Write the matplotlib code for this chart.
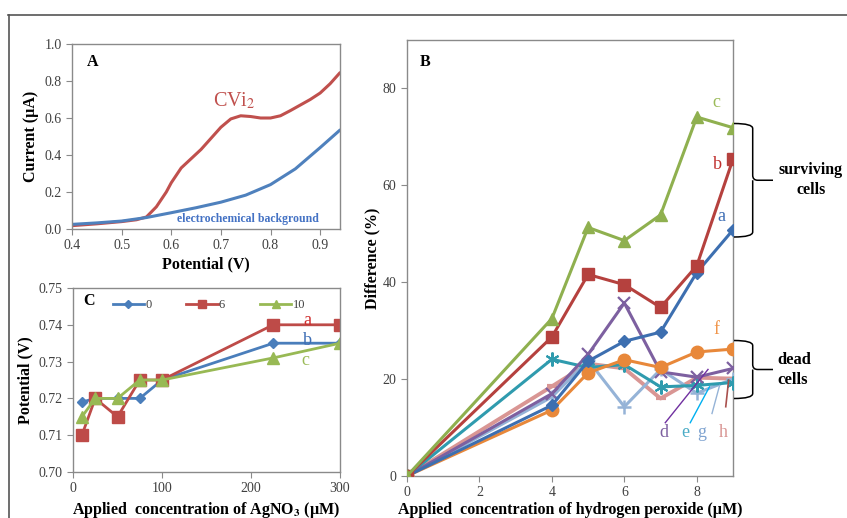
import numpy as np
import matplotlib
matplotlib.use("Agg")
import matplotlib.pyplot as plt
from matplotlib.path import Path
from matplotlib.patches import PathPatch
from matplotlib.lines import Line2D

plt.rcParams['font.family'] = ['Liberation Serif', 'DejaVu Serif']
plt.rcParams['mathtext.fontset'] = 'stix'

# ---------------- Data ----------------
# Panel A
potA_red = [0.40, 0.45, 0.50, 0.53, 0.55, 0.57, 0.59, 0.60, 0.62, 0.64, 0.66, 0.68, 0.70,
            0.72, 0.74, 0.76, 0.78, 0.80, 0.82, 0.84, 0.86, 0.88, 0.90, 0.92, 0.94]
curA_red = [0.018, 0.028, 0.040, 0.050, 0.065, 0.12, 0.20, 0.25, 0.33, 0.38, 0.43, 0.49, 0.55,
            0.595, 0.612, 0.608, 0.600, 0.600, 0.612, 0.640, 0.670, 0.700, 0.735, 0.785, 0.845]
potA_blue = [0.40, 0.45, 0.50, 0.55, 0.60, 0.65, 0.70, 0.75, 0.80, 0.85, 0.90, 0.94]
curA_blue = [0.025, 0.033, 0.043, 0.062, 0.088, 0.115, 0.145, 0.183, 0.240, 0.325, 0.440, 0.535]

# Panel C
agno3 = [10, 25, 50, 75, 100, 225, 300]
potC = {
    '0':  [0.719, 0.720, 0.720, 0.720, 0.725, 0.735, 0.735],
    '6':  [0.710, 0.720, 0.715, 0.725, 0.725, 0.740, 0.740],
    '10': [0.715, 0.720, 0.720, 0.725, 0.725, 0.731, 0.735],
}

# Panel B
h2o2 = [0, 4, 5, 6, 7, 8, 9]
diff_a = [0, 14.6, 23.7, 27.8, 29.7, 42.0, 50.8]
diff_b = [0, 28.7, 41.6, 39.5, 34.8, 43.4, 65.4]
diff_c = [0, 32.5, 51.3, 48.6, 53.9, 74.1, 71.9]
diff_d = [0, 17.0, 25.1, 35.7, 21.5, 20.4, 22.2]
diff_e = [0, 24.1, 22.4, 23.0, 18.4, 18.7, 19.3]
diff_f = [0, 13.6, 21.3, 24.0, 22.4, 25.6, 26.2]
diff_g = [0, 16.3, 23.9, 14.3, 22.0, 17.1, 20.0]
diff_h = [0, 18.5, 23.2, 22.2, 16.0, 20.3, 20.1]

# ---------------- Figure ----------------
W, H = 847, 518
fig = plt.figure(figsize=(W / 100, H / 100), dpi=100)

def fx(px):
    return px / W

def fy(py):
    return 1 - py / H

# outer frame (top and left edges)
fig.add_artist(Line2D([fx(8), 1.0], [fy(14.5), fy(14.5)], color='#555555', lw=1.2))
fig.add_artist(Line2D([fx(8.5), fx(8.5)], [fy(14.5), 0.0], color='#555555', lw=1.2))

tick_col = '#404040'
spine_col = '#8a8a8a'

def style(ax):
    for s in ax.spines.values():
        s.set_color(spine_col)
        s.set_linewidth(1.0)
    ax.tick_params(direction='out', length=4, width=0.8, color=spine_col,
                   labelcolor=tick_col, labelsize=10)

# ---- Panel A ----
axA = fig.add_axes([fx(72), fy(229), fx(340) - fx(72), fy(44) - fy(229)])
style(axA)
axA.plot(potA_red, curA_red, color='#C0504D', lw=2.2, solid_capstyle='round')
axA.plot(potA_blue, curA_blue, color='#4F81BD', lw=2.2, solid_capstyle='round')
axA.set_xlim(0.4, 0.94)
axA.set_ylim(0, 1.0)
axA.set_xticks([0.4, 0.5, 0.6, 0.7, 0.8, 0.9])
axA.set_xticklabels(['0.4', '0.5', '0.6', '0.7', '0.8', '0.9'])
axA.set_yticks([0, 0.2, 0.4, 0.6, 0.8, 1.0])
axA.set_yticklabels(['0.0', '0.2', '0.4', '0.6', '0.8', '1.0'])
axA.set_xlabel('Potential (V)', fontsize=11.5, fontweight='bold', labelpad=3)
axA.set_ylabel('Current (µA)', fontsize=11.5, fontweight='bold', labelpad=4)
axA.text(0.43, 0.905, 'A', fontsize=11.5, fontweight='bold', ha='left', va='center')
axA.text(0.728, 0.69, r'CVi$_2$', fontsize=14.5, color='#C0504D', ha='center', va='center')
axA.text(0.755, 0.053, 'electrochemical background', fontsize=8.5, fontweight='bold',
         color='#4472C4', ha='center', va='center')

# ---- Panel C ----
axC = fig.add_axes([fx(73), fy(472), fx(340) - fx(73), fy(288) - fy(472)])
style(axC)
c_cols = {'0': '#4A7EBB', '6': '#BE4B48', '10': '#98B954'}
c_mk = {'0': ('D', 5), '6': ('s', 8), '10': ('^', 8)}
for k, v in potC.items():
    m, ms = c_mk[k]
    axC.plot(agno3, v, color=c_cols[k], lw=2.0, marker=m, ms=ms, label=k)
axC.set_xlim(0, 300)
axC.set_ylim(0.70, 0.75)
axC.set_xticks([0, 100, 200, 300])
axC.set_yticks([0.70, 0.71, 0.72, 0.73, 0.74, 0.75])
axC.set_yticklabels(['0.70', '0.71', '0.72', '0.73', '0.74', '0.75'])
axC.set_xlabel('Applied  concentration of AgNO$_\\mathbf{3}$ (µM)', fontsize=11.5,
               fontweight='bold', labelpad=3)
axC.set_ylabel('Potential (V)', fontsize=11.5, fontweight='bold', labelpad=4)
axC.text(12, 0.7465, 'C', fontsize=11.5, fontweight='bold', ha='left', va='center')
leg = axC.legend(loc='center left', bbox_to_anchor=(0.148, 0.906), ncol=3, frameon=False,
                 fontsize=9, handlelength=2.5, columnspacing=2.8, handletextpad=0.1,
                 borderpad=0, borderaxespad=0, markerscale=0.75)
for t in leg.get_texts():
    t.set_color(tick_col)
axC.text(263, 0.7413, 'a', fontsize=13, color='#D03030', ha='center', va='center')
axC.text(263, 0.7357, 'b', fontsize=13, color='#3F6FB5', ha='center', va='center')
axC.text(261, 0.7302, 'c', fontsize=13, color='#9BBB59', ha='center', va='center')

# ---- Panel B ----
axB = fig.add_axes([fx(407), fy(476), fx(733) - fx(407), fy(40) - fy(476)])
style(axB)
lw = 2.2
axB.plot(h2o2, diff_h, color='#D99694', lw=lw + 0.6, marker='_', ms=7, mew=3, zorder=3)
axB.plot(h2o2, diff_g, color='#95B3D7', lw=lw, marker='+', ms=10, mew=1.8, zorder=3)
axB.plot(h2o2, diff_e, color='#2F9BAE', lw=lw, marker=(6, 2, 0), ms=10, mew=1.5, zorder=3)
axB.plot(h2o2, diff_d, color='#7D60A0', lw=lw, marker='x', ms=9, mew=1.6, zorder=3)
axB.plot(h2o2, diff_f, color='#E8883A', lw=lw, marker='o', ms=9, zorder=3)
axB.plot(h2o2, diff_a, color='#3D6FB0', lw=lw, marker='D', ms=6, zorder=4)
axB.plot(h2o2, diff_b, color='#B5413E', lw=lw, marker='s', ms=9, zorder=4)
axB.plot(h2o2, diff_c, color='#8FB04F', lw=lw, marker='^', ms=9, zorder=4)
axB.set_xlim(0, 9)
axB.set_ylim(0, 90)
axB.set_xticks([0, 2, 4, 6, 8])
axB.set_yticks([0, 20, 40, 60, 80])
axB.set_xlabel('Applied  concentration of hydrogen peroxide (µM)', fontsize=11.5,
               fontweight='bold', labelpad=2)
axB.set_ylabel('Difference (%)', fontsize=11.5, fontweight='bold', labelpad=2)
axB.text(0.35, 85.5, 'B', fontsize=11.5, fontweight='bold', ha='left', va='center')

# curve labels
axB.text(8.69, 53.5, 'a', fontsize=13, color='#3F6FB5', ha='center', va='center')
axB.text(8.58, 64.2, 'b', fontsize=13, color='#C0302E', ha='center', va='center')
axB.text(8.54, 77.2, 'c', fontsize=13, color='#9BBB59', ha='center', va='center')
axB.text(8.55, 30.2, 'f', fontsize=13, color='#F0954A', ha='center', va='center')
axB.text(7.10, 9.0, 'd', fontsize=13, color='#7D60A0', ha='center', va='center')
axB.text(7.68, 9.0, 'e', fontsize=13, color='#4BACC6', ha='center', va='center')
axB.text(8.14, 9.0, 'g', fontsize=13, color='#7FA3D0', ha='center', va='center')
axB.text(8.74, 9.0, 'h', fontsize=13, color='#D99694', ha='center', va='center')
# pointer lines
axB.plot([7.13, 8.31], [11.0, 22.0], color='#7030A0', lw=1.0, zorder=5, clip_on=False)
axB.plot([7.82, 8.35], [11.0, 18.4], color='#00B0F0', lw=1.0, zorder=5, clip_on=False)
axB.plot([8.42, 8.63], [12.9, 18.7], color='#95B3D7', lw=1.0, zorder=5, clip_on=False)
axB.plot([8.80, 8.88], [14.3, 19.8], color='#A9504D', lw=1.2, zorder=5, clip_on=False)

# braces in pixel coords -> figure fraction
def brace(top, bot, x0=734, xv=752.7, xt=773):
    mid = (top + bot) / 2
    r = 5
    verts = [
        (x0, top), (xv, top), (xv, top + r),
        (xv, mid - r), (xv, mid), (xv + r, mid),
        (xt, mid), (xv + r, mid), (xv + r, mid),
        (xv, mid), (xv, mid + r), (xv, mid + r),
        (xv, bot - r), (xv, bot), (x0, bot),
    ]
    codes = [Path.MOVETO, Path.CURVE3, Path.CURVE3,
             Path.LINETO, Path.CURVE3, Path.CURVE3,
             Path.LINETO, Path.MOVETO, Path.LINETO,
             Path.MOVETO, Path.CURVE3, Path.CURVE3,
             Path.LINETO, Path.CURVE3, Path.CURVE3]
    v = [(fx(a), fy(b)) for a, b in verts]
    p = PathPatch(Path(v, codes), transform=fig.transFigure, fill=False,
                  edgecolor='black', lw=1.1)
    fig.add_artist(p)

brace(123.5, 237)
brace(340.5, 398.5)
fig.text(fx(811), fy(180), 'surviving\ncells', fontsize=11.5, fontweight='bold',
         ha='center', va='center', multialignment='center', linespacing=1.25)
fig.text(fx(777), fy(370), 'dead\ncells', fontsize=12, fontweight='bold',
         ha='left', va='center', multialignment='left', linespacing=1.25)

fig.savefig('out.png', dpi=100)
